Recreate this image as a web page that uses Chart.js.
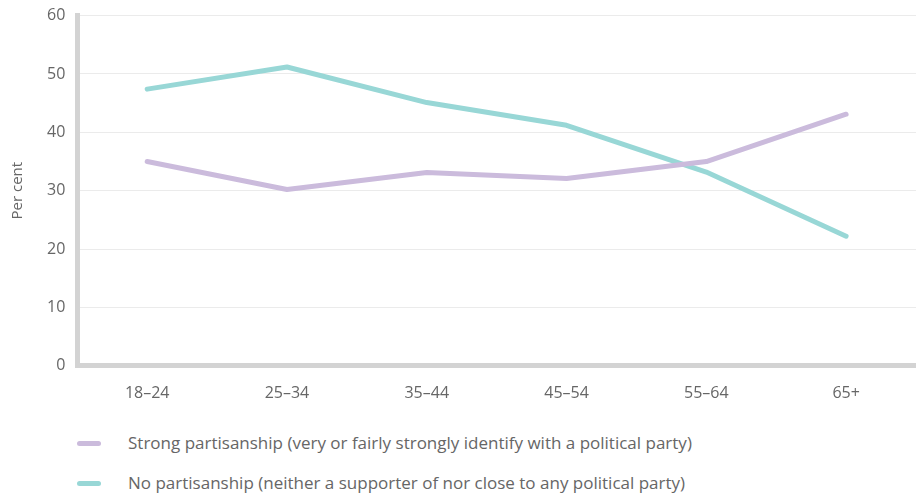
<!DOCTYPE html>
<html><head><meta charset="utf-8">
<script src="https://cdn.jsdelivr.net/npm/chart.js@4/dist/chart.umd.min.js"></script>
<style>
html,body{margin:0;padding:0;background:#fff;overflow:hidden;}
#wrap{position:relative;width:916px;height:424px;}
#c{position:absolute;left:0;top:-6px;}
#legend{position:absolute;left:0;top:433px;width:916px;font-family:"Open Sans", sans-serif;font-size:17px;color:#666;}
.li{position:absolute;left:77px;height:20px;}
.sw{position:absolute;left:0;top:8px;width:24px;height:5px;border-radius:3px;}
.tx{position:absolute;left:51px;top:0;white-space:nowrap;line-height:20px;}
</style></head>
<body>
<div id="wrap"><canvas id="c" width="916" height="427"></canvas></div>
<div id="legend"></div>
<script>
const categories = ["18–24","25–34","35–44","45–54","55–64","65+"];
const strongPartisanship = [35.0, 30.2, 33.1, 32.1, 35.0, 43.1];
const noPartisanship = [47.4, 51.2, 45.1, 41.2, 33.2, 22.2];
const seriesLabels = ["Strong partisanship (very or fairly strongly identify with a political party)",
  "No partisanship (neither a supporter of nor close to any political party)"];
const seriesColors = ["#cbbbdc", "#98d7d6"];
const yTicks = [0,10,20,30,40,50,60];

const tickFont = {family: "'Open Sans', sans-serif", size: 16};
const titleFont = {family: "'Open Sans', sans-serif", size: 15};
const chart = new Chart(document.getElementById('c'), {
  type: 'line',
  data: {
    labels: categories,
    datasets: [
      {label: seriesLabels[0], data: strongPartisanship, borderColor: seriesColors[0], borderWidth: 5, pointRadius: 0, tension: 0, borderCapStyle: 'round', borderJoinStyle: 'round'},
      {label: seriesLabels[1], data: noPartisanship, borderColor: seriesColors[1], borderWidth: 5, pointRadius: 0, tension: 0, borderCapStyle: 'round', borderJoinStyle: 'round'}
    ]
  },
  options: {
    responsive: false,
    animation: false,
    layout: {padding: {top: 0, right: 0, left: 9, bottom: 0}},
    plugins: {legend: {display: false}, tooltip: {enabled: false}},
    scales: {
      x: {
        offset: true,
        grid: {display: false, drawTicks: false, offset: true},
        border: {display: true, color: '#d3d3d3', width: 5},
        ticks: {color: '#666', font: tickFont, padding: 18}
      },
      y: {
        min: 0, max: 60,
        afterBuildTicks: (s) => { s.ticks = yTicks.map(v => ({value: v})); },
        grid: {color: '#ebebeb', lineWidth: 1, drawTicks: false},
        border: {display: true, color: '#d3d3d3', width: 5},
        ticks: {color: '#666', font: tickFont, padding: 12},
        title: {display: true, text: 'Per cent', color: '#666', font: titleFont, padding: {top: 0, bottom: 8}}
      }
    }
  }
});

const lg = document.getElementById('legend');
seriesLabels.forEach((t, i) => {
  const d = document.createElement('div');
  d.className = 'li';
  d.style.top = (i * 40) + 'px';
  d.innerHTML = '<div class="sw" style="background:' + seriesColors[i] + '"></div><div class="tx">' + t + '</div>';
  lg.appendChild(d);
});
</script>
</body></html>
